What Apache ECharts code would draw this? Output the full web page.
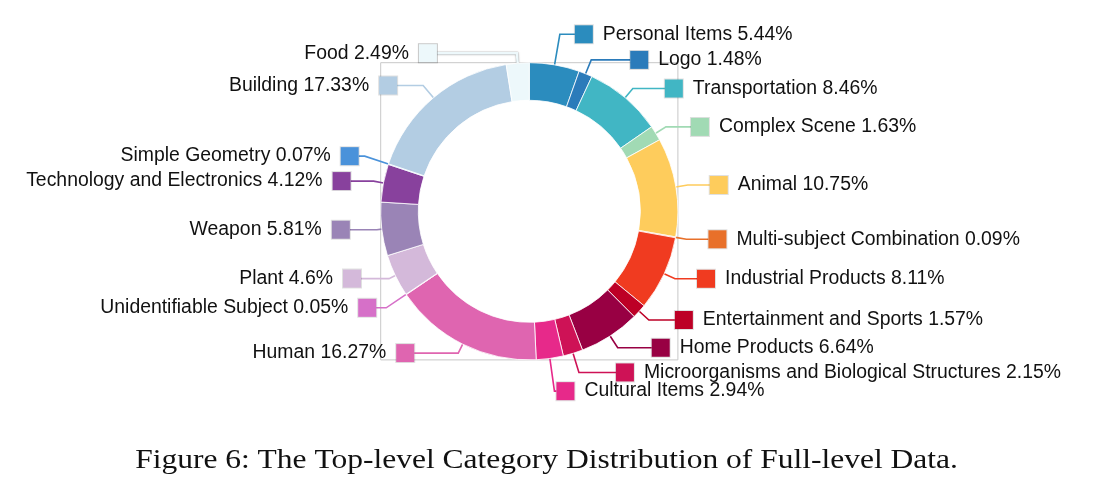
<!DOCTYPE html>
<html>
<head>
<meta charset="utf-8">
<title>Top-level Category Distribution</title>
<script src="https://cdn.jsdelivr.net/npm/echarts@6/dist/echarts.min.js"></script>
<style>
  html, body { margin: 0; padding: 0; background: #fff; }
  #main { width: 1094px; height: 493px; }
</style>
</head>
<body>
<div id="main"></div>
<script>
// clockwise from 12 o'clock
const categories = [
  'Personal Items', 'Logo', 'Transportation', 'Complex Scene', 'Animal',
  'Multi-subject Combination', 'Industrial Products', 'Entertainment and Sports',
  'Home Products', 'Microorganisms and Biological Structures', 'Cultural Items',
  'Human', 'Unidentifiable Subject', 'Plant', 'Weapon',
  'Technology and Electronics', 'Simple Geometry', 'Building', 'Food'
];
const shares = [
  5.44, 1.48, 8.46, 1.63, 10.75,
  0.09, 8.11, 1.57,
  6.64, 2.15, 2.94,
  16.27, 0.05, 4.6, 5.81,
  4.12, 0.07, 17.33, 2.49
];
const colors = [
  '#2b8cbe', '#2b7bba', '#41b6c4', '#a1dab4', '#fecc5c',
  '#e8702a', '#f03b20', '#bd0026',
  '#980043', '#ce1256', '#e7298a',
  '#df65b0', '#d670c8', '#d4b9da', '#9a84b6',
  '#88419d', '#4a92da', '#b3cde3', '#edf8fb'
];
// label line: radial part, horizontal part
const lineLen = [31, 15, 12, 12, 12, 11, 12, 13, 14, 20, 33, 10, 24, 7, 5, 10, 25, 16, 10];
const lineLen2 = [15, 39, 32, 25, 22, 22, 22, 26, 34, 37, 2, 44, 10, 28, 27, 23, 6, 26, 80];

const chart = echarts.init(document.getElementById('main'), null, { renderer: 'canvas' });

const cx = 529.3, cy = 211.3, rOut = 148.6, rIn = 111;
const total = shares.reduce((a, b) => a + b, 0);

let acc = 0;
const data = categories.map((name, i) => {
  const mid = (acc + shares[i] / 2) / total;
  acc += shares[i];
  const right = mid < 0.5;
  const text = name + ' ' + shares[i] + '%';
  const isFood = name === 'Food';
  return {
    name: name,
    value: shares[i],
    itemStyle: { color: colors[i] },
    label: {
      formatter: right ? '{box|}{t|' + text + '}' : '{t|' + text + '}{box|}',
      rich: {
        box: {
          width: 18, height: 18,
          backgroundColor: colors[i],
          borderColor: isFood ? 'rgba(0,0,0,0.22)' : 'rgba(0,0,0,0.12)',
          borderWidth: 1
        },
        t: {
          fontFamily: 'Liberation Sans, Arial, sans-serif',
          fontSize: 19.4,
          color: '#111',
          padding: right ? [0, 0, 0, 10] : [0, 10, 0, 0]
        }
      }
    },
    labelLine: {
      length: lineLen[i],
      length2: lineLen2[i],
      lineStyle: isFood
        ? { color: '#edf8fb', width: 2.5, shadowColor: 'rgba(0,0,0,0.55)', shadowBlur: 1.5 }
        : { color: colors[i], width: 1.6 }
    }
  };
});

chart.setOption({
  backgroundColor: '#fff',
  animation: false,
  graphic: [
    {
      type: 'rect',
      shape: { x: cx - rOut, y: cy - rOut, width: rOut * 2, height: rOut * 2 },
      style: { fill: 'none', stroke: '#c8c8c8', lineWidth: 1 },
      z: -10
    },
    {
      type: 'text',
      x: 546.5,
      y: 461,
      scaleX: 1.125,
      style: {
        text: 'Figure 6: The Top-level Category Distribution of Full-level Data.',
        font: '28px "Liberation Serif", "DejaVu Serif", serif',
        fill: '#111',
        align: 'center',
        verticalAlign: 'middle'
      }
    }
  ],
  series: [{
    type: 'pie',
    center: [cx, cy],
    radius: [rIn, rOut],
    startAngle: 90,
    clockwise: true,
    avoidLabelOverlap: false,
    itemStyle: { borderColor: '#fff', borderWidth: 0.8 },
    label: {
      show: true,
      position: 'outside',
      alignTo: 'none',
      distanceToLabelLine: 0
    },
    labelLine: { show: true, smooth: false },
    labelLayout: { hideOverlap: false, moveOverlap: null },
    emphasis: { disabled: true },
    data: data
  }]
});
</script>
</body>
</html>
